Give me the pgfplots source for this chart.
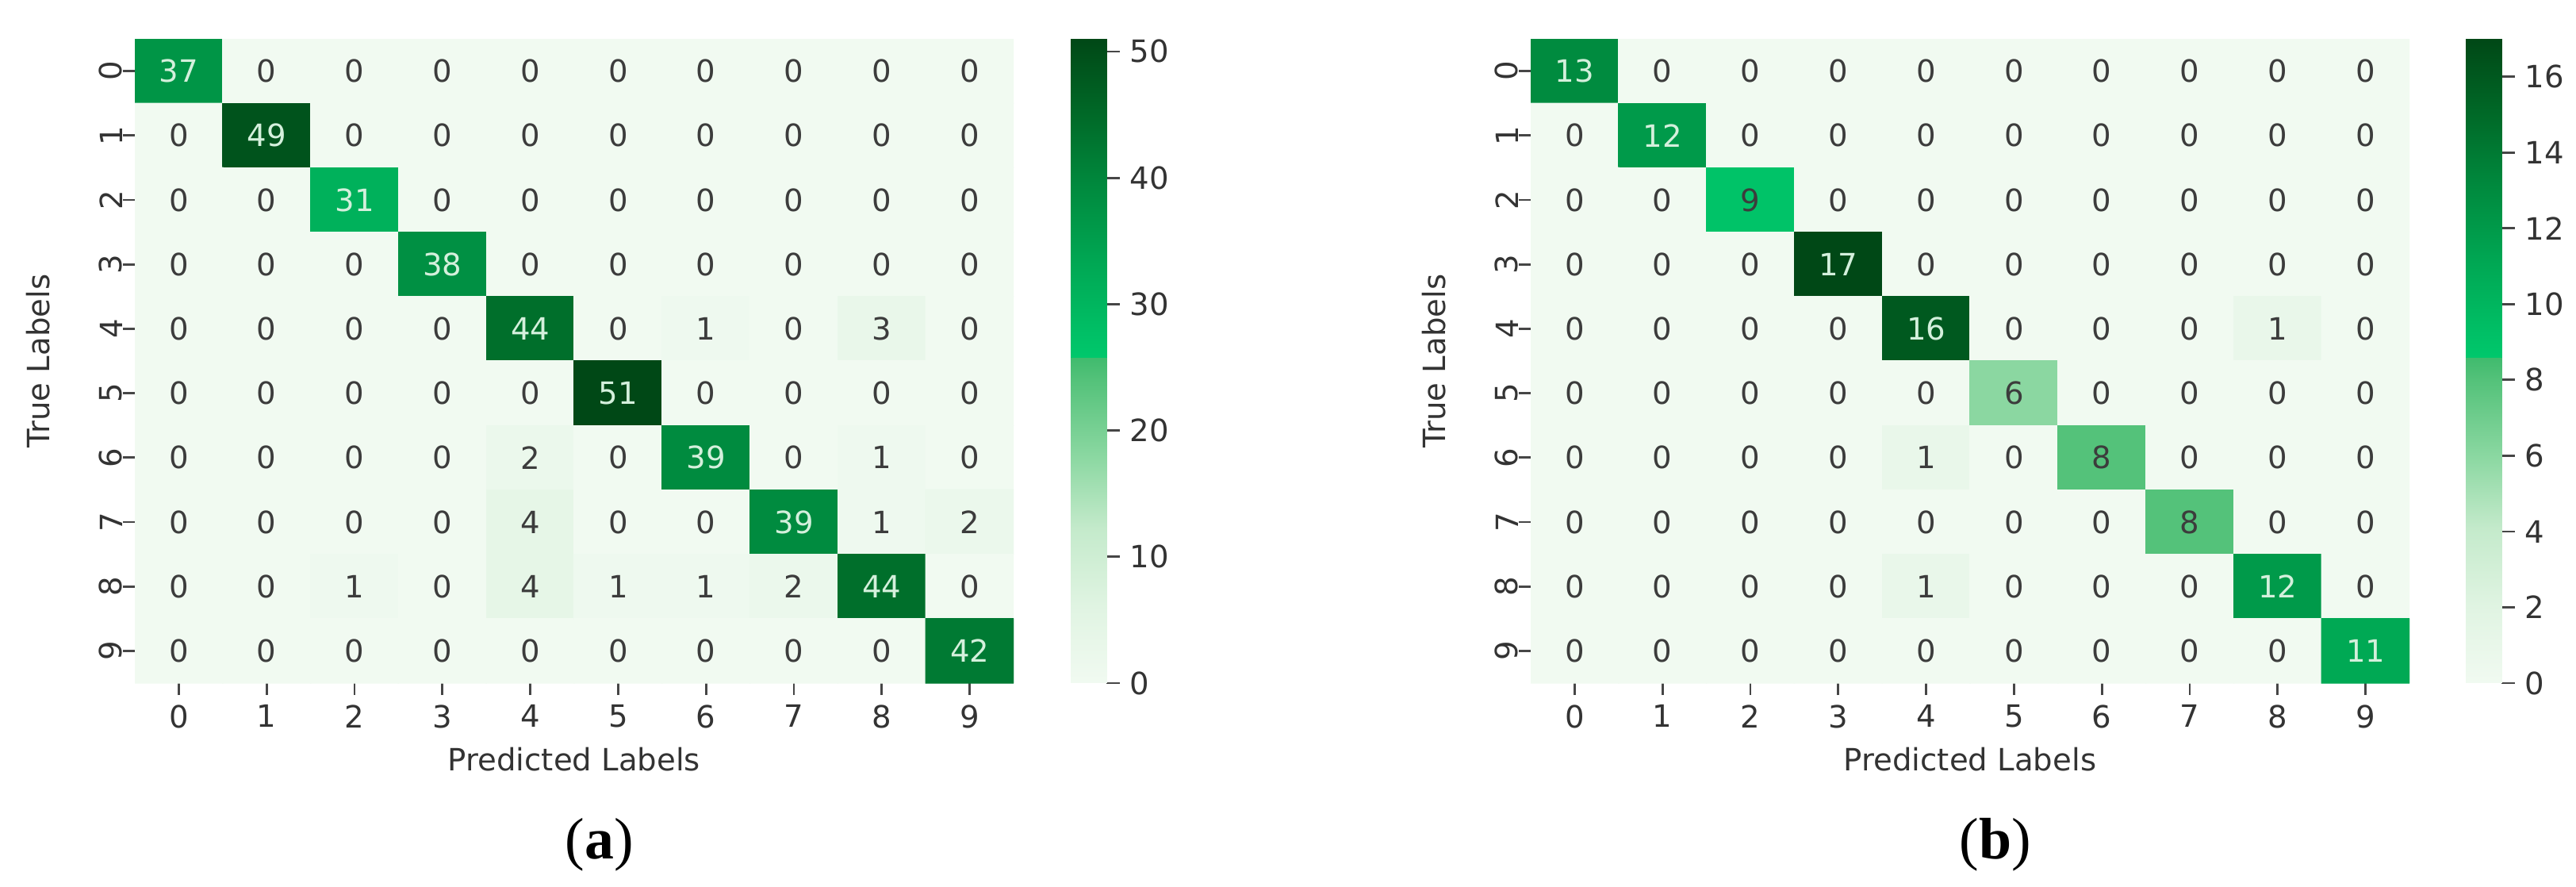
\documentclass[border=0pt]{standalone}
\usepackage{fontspec}
\setmainfont{DejaVu Sans}
\newfontfamily\capfont{Liberation Serif}
\usepackage{pgfplots}
\usepackage{pgfplotstable}
\pgfplotsset{compat=1.18}

\definecolor{tickgray}{RGB}{70,70,70}
\definecolor{celllight}{RGB}{212,240,220}
\definecolor{celldark}{RGB}{60,60,60}

% confusion matrix (a): x = predicted, y = true, c = count
\pgfplotstableread[row sep=\\]{
x y c\\
0 0 37\\ 1 0 0\\ 2 0 0\\ 3 0 0\\ 4 0 0\\ 5 0 0\\ 6 0 0\\ 7 0 0\\ 8 0 0\\ 9 0 0\\
0 1 0\\ 1 1 49\\ 2 1 0\\ 3 1 0\\ 4 1 0\\ 5 1 0\\ 6 1 0\\ 7 1 0\\ 8 1 0\\ 9 1 0\\
0 2 0\\ 1 2 0\\ 2 2 31\\ 3 2 0\\ 4 2 0\\ 5 2 0\\ 6 2 0\\ 7 2 0\\ 8 2 0\\ 9 2 0\\
0 3 0\\ 1 3 0\\ 2 3 0\\ 3 3 38\\ 4 3 0\\ 5 3 0\\ 6 3 0\\ 7 3 0\\ 8 3 0\\ 9 3 0\\
0 4 0\\ 1 4 0\\ 2 4 0\\ 3 4 0\\ 4 4 44\\ 5 4 0\\ 6 4 1\\ 7 4 0\\ 8 4 3\\ 9 4 0\\
0 5 0\\ 1 5 0\\ 2 5 0\\ 3 5 0\\ 4 5 0\\ 5 5 51\\ 6 5 0\\ 7 5 0\\ 8 5 0\\ 9 5 0\\
0 6 0\\ 1 6 0\\ 2 6 0\\ 3 6 0\\ 4 6 2\\ 5 6 0\\ 6 6 39\\ 7 6 0\\ 8 6 1\\ 9 6 0\\
0 7 0\\ 1 7 0\\ 2 7 0\\ 3 7 0\\ 4 7 4\\ 5 7 0\\ 6 7 0\\ 7 7 39\\ 8 7 1\\ 9 7 2\\
0 8 0\\ 1 8 0\\ 2 8 1\\ 3 8 0\\ 4 8 4\\ 5 8 1\\ 6 8 1\\ 7 8 2\\ 8 8 44\\ 9 8 0\\
0 9 0\\ 1 9 0\\ 2 9 0\\ 3 9 0\\ 4 9 0\\ 5 9 0\\ 6 9 0\\ 7 9 0\\ 8 9 0\\ 9 9 42\\
}\cmA

% confusion matrix (b)
\pgfplotstableread[row sep=\\]{
x y c\\
0 0 13\\ 1 0 0\\ 2 0 0\\ 3 0 0\\ 4 0 0\\ 5 0 0\\ 6 0 0\\ 7 0 0\\ 8 0 0\\ 9 0 0\\
0 1 0\\ 1 1 12\\ 2 1 0\\ 3 1 0\\ 4 1 0\\ 5 1 0\\ 6 1 0\\ 7 1 0\\ 8 1 0\\ 9 1 0\\
0 2 0\\ 1 2 0\\ 2 2 9\\ 3 2 0\\ 4 2 0\\ 5 2 0\\ 6 2 0\\ 7 2 0\\ 8 2 0\\ 9 2 0\\
0 3 0\\ 1 3 0\\ 2 3 0\\ 3 3 17\\ 4 3 0\\ 5 3 0\\ 6 3 0\\ 7 3 0\\ 8 3 0\\ 9 3 0\\
0 4 0\\ 1 4 0\\ 2 4 0\\ 3 4 0\\ 4 4 16\\ 5 4 0\\ 6 4 0\\ 7 4 0\\ 8 4 1\\ 9 4 0\\
0 5 0\\ 1 5 0\\ 2 5 0\\ 3 5 0\\ 4 5 0\\ 5 5 6\\ 6 5 0\\ 7 5 0\\ 8 5 0\\ 9 5 0\\
0 6 0\\ 1 6 0\\ 2 6 0\\ 3 6 0\\ 4 6 1\\ 5 6 0\\ 6 6 8\\ 7 6 0\\ 8 6 0\\ 9 6 0\\
0 7 0\\ 1 7 0\\ 2 7 0\\ 3 7 0\\ 4 7 0\\ 5 7 0\\ 6 7 0\\ 7 7 8\\ 8 7 0\\ 9 7 0\\
0 8 0\\ 1 8 0\\ 2 8 0\\ 3 8 0\\ 4 8 1\\ 5 8 0\\ 6 8 0\\ 7 8 0\\ 8 8 12\\ 9 8 0\\
0 9 0\\ 1 9 0\\ 2 9 0\\ 3 9 0\\ 4 9 0\\ 5 9 0\\ 6 9 0\\ 7 9 0\\ 8 9 0\\ 9 9 11\\
}\cmB

\pgfplotsset{
  /pgf/number format/assume math mode=true,
  colormap={greensplit}{rgb255(0pt)=(241,250,241); rgb255(120pt)=(224,244,226);
    rgb255(240pt)=(196,234,203); rgb255(350pt)=(140,216,162); rgb255(470pt)=(84,194,122);
    rgb255(505pt)=(64,187,110); rgb255(506pt)=(0,200,108); rgb255(650pt)=(0,168,84);
    rgb255(770pt)=(0,138,62); rgb255(880pt)=(0,106,40); rgb255(1000pt)=(0,72,22)},
  cmat/.style={
    scale only axis, width=11.08cm, height=8.12cm, anchor=south west,
    xmin=-0.5, xmax=9.5, ymin=-0.5, ymax=9.5, y dir=reverse,
    enlargelimits=false, axis line style={draw=none},
    xtick={0,...,9}, ytick={0,...,9},
    tick align=outside, major tick length=0.15cm,
    tick style={draw=tickgray, line width=0.8pt},
    xtick pos=left, ytick pos=left,
    ticklabel style={font=\fontsize{11}{13}\selectfont, text=black!80},
    yticklabel style={rotate=90, anchor=south, inner sep=0pt},
    xlabel={Predicted Labels}, ylabel={True Labels},
    label style={font=\fontsize{11}{13}\selectfont, text=black!80},
    xlabel style={at={(axis description cs:0.5,-0.118)}, anchor=center},
    ylabel style={at={(axis description cs:-0.11,0.5)}, anchor=center},
    colormap name=greensplit,
    point meta min=0,
  },
  cbar/.style={
    scale only axis, width=0.45cm, height=8.12cm, anchor=south west,
    xmin=0, xmax=1, ymin=0, enlargelimits=false,
    axis line style={draw=none}, xtick=\empty,
    tick align=outside, major tick length=0.17cm,
    tick style={draw=tickgray, line width=0.8pt},
    ytick pos=right, yticklabel pos=right,
    yticklabel style={font=\fontsize{11}{13}\selectfont, text=black!80},
    colormap name=greensplit, point meta min=0,
  },
  cmcells/.style={
    matrix plot*, mesh/cols=10, point meta=explicit,
    nodes near coords={\pgfmathtruncatemacro\islight{\pgfplotspointmetatransformed>560}%
      \ifnum\islight=1 \color{celllight}\else\color{celldark}\fi
      \pgfmathprintnumber{\pgfplotspointmeta}},
    nodes near coords style={anchor=center, font=\fontsize{11}{13}\selectfont},
  },
}

\begin{document}
\begin{tikzpicture}
\useasboundingbox (0,0) rectangle (32.48cm,11.17cm);

% colour bars
\begin{axis}[cbar, at={(13.50cm,2.56cm)}, ymax=51, point meta max=51, ytick={0,10,...,50}]
\addplot[surf, shader=interp, mesh/cols=2, point meta=y] coordinates {
(0,0) (1,0) (0,6.12) (1,6.12) (0,12.24) (1,12.24) (0,17.85) (1,17.85)
(0,23.97) (1,23.97) (0,25.75) (1,25.75) (0,25.81) (1,25.81) (0,33.15) (1,33.15)
(0,39.27) (1,39.27) (0,44.88) (1,44.88) (0,51) (1,51)};
\end{axis}
\begin{axis}[cbar, at={(31.09cm,2.56cm)}, ymax=17, point meta max=17, ytick={0,2,...,16}]
\addplot[surf, shader=interp, mesh/cols=2, point meta=y] coordinates {
(0,0) (1,0) (0,2.04) (1,2.04) (0,4.08) (1,4.08) (0,5.95) (1,5.95)
(0,7.99) (1,7.99) (0,8.585) (1,8.585) (0,8.602) (1,8.602) (0,11.05) (1,11.05)
(0,13.09) (1,13.09) (0,14.96) (1,14.96) (0,17) (1,17)};
\end{axis}

% (a)
\begin{axis}[cmat, at={(1.70cm,2.56cm)}, point meta max=51]
\addplot[cmcells] table[x=x, y=y, meta=c] {\cmA};
\end{axis}

% (b)
\begin{axis}[cmat, at={(19.30cm,2.56cm)}, point meta max=17]
\addplot[cmcells] table[x=x, y=y, meta=c] {\cmB};
\end{axis}

\node[font=\capfont\fontsize{21}{24}\selectfont, inner sep=0pt] at (7.56cm,0.52cm) {(\textbf{a})};
\node[font=\capfont\fontsize{21}{24}\selectfont, inner sep=0pt] at (25.16cm,0.52cm) {(\textbf{b})};
\end{tikzpicture}
\end{document}
